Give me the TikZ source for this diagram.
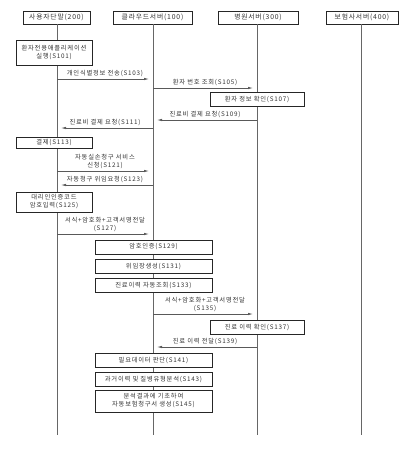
\documentclass[tikz,border=0pt]{standalone}
\usepackage{fontspec}
\newfontfamily\kr[LetterSpace=12]{Noto Sans CJK KR}
\usetikzlibrary{arrows.meta,shadows}
\begin{document}
\begin{tikzpicture}[x=1pt,y=-1pt,
  every node/.style={font=\kr\fontsize{6.3}{8}\selectfont, text=black!80, inner sep=1pt},
  head/.style={draw=black!85, line width=0.8pt, fill=white, minimum height=13pt, inner sep=0pt,
    drop shadow={shadow xshift=0.9pt, shadow yshift=-0.9pt, fill=black!75, opacity=1},
    font=\kr\fontsize{6.8}{8}\selectfont},
  stepbox/.style={draw=black!85, line width=0.7pt, fill=white, inner sep=0pt, align=center,
    drop shadow={shadow xshift=0.9pt, shadow yshift=-0.9pt, fill=black!75, opacity=1}},
  life/.style={draw=black!60, line width=0.8pt},
  msg/.style={draw=black!65, line width=0.6pt, -{Latex[length=5pt,width=2.4pt]}, shorten >=4pt},
  lbl/.style={above=0.8pt, align=center}
]
\useasboundingbox (0,0) rectangle (418,451);
% headers
\node[head, minimum width=67pt] (hu) at (56.5,17.5) {사용자단말(200)};
\node[head, minimum width=79pt] (hc) at (152.5,17.5) {클라우드서버(100)};
\node[head, minimum width=80pt] (hh) at (258,17.5) {병원서버(300)};
\node[head, minimum width=72pt] (hi) at (362,17.5) {보험사서버(400)};
% lifeline ends
\coordinate (eu) at (57,435);
\coordinate (ec) at (153,435);
\coordinate (eh) at (257,435);
\coordinate (ei) at (361,435);
\coordinate (tu) at (57,24);
\coordinate (tc) at (153,24);
\coordinate (th) at (257,24);
\coordinate (ti) at (361,24);
\draw[life] (tu) -- (eu);
\draw[life] (tc) -- (ec);
\draw[life] (th) -- (eh);
\draw[life] (ti) -- (ei);
% step boxes
\node[stepbox, minimum width=76pt, minimum height=25pt] (s101) at (54,52.5) {환자전용애플리케이션\\실행(S101)};
\node[stepbox, minimum width=94pt, minimum height=14pt] (s107) at (257,99) {환자 정보 확인(S107)};
\node[stepbox, minimum width=76pt, minimum height=11pt] (s113) at (54,143) {결제(S113)};
\node[stepbox, minimum width=76pt, minimum height=20pt] (s125) at (54,202) {대리인인증코드\\암호입력(S125)};
\node[stepbox, minimum width=117pt, minimum height=14pt] (s129) at (153.5,247) {암호인증(S129)};
\node[stepbox, minimum width=117pt, minimum height=14pt] (s131) at (153.5,266.5) {위임장생성(S131)};
\node[stepbox, minimum width=117pt, minimum height=14pt] (s133) at (153.5,285.5) {진료이력 자동조회(S133)};
\node[stepbox, minimum width=94pt, minimum height=14pt] (s137) at (257,327.5) {진료 이력 확인(S137)};
\node[stepbox, minimum width=117pt, minimum height=14pt] (s141) at (153.5,360.5) {필요데이터 판단(S141)};
\node[stepbox, minimum width=117pt, minimum height=14pt] (s143) at (153.5,379.5) {과거이력 및 질병유형분석(S143)};
\node[stepbox, minimum width=117pt, minimum height=22pt] (s145) at (153.5,401) {분석결과에 기초하여\\자동보험청구서 생성(S145)};
% messages
\draw[msg] (tu |- 0,79) -- node[lbl] {개인식별정보 전송(S103)} (tc |- 0,79);
\draw[msg] (tc |- 0,88) -- node[lbl] {환자 번호 조회(S105)} (th |- 0,88);
\draw[msg] (th |- 0,120) -- node[lbl] {진료비 결제 요청(S109)} (tc |- 0,120);
\draw[msg] (tc |- 0,128) -- node[lbl] {진료비 결제 요청(S111)} (tu |- 0,128);
\draw[msg] (tu |- 0,171) -- node[lbl] {자동실손청구 서비스\\신청(S121)} (tc |- 0,171);
\draw[msg] (tc |- 0,185) -- node[lbl] {자동청구 위임요청(S123)} (tu |- 0,185);
\draw[msg] (tu |- 0,234) -- node[lbl] {서식+암호화+고객서명전달\\(S127)} (tc |- 0,234);
\draw[msg] (tc |- 0,314) -- node[lbl] {서식+암호화+고객서명전달\\(S135)} (th |- 0,314);
\draw[msg] (th |- 0,347) -- node[lbl] {진료 이력 전달(S139)} (tc |- 0,347);
\end{tikzpicture}
\end{document}
